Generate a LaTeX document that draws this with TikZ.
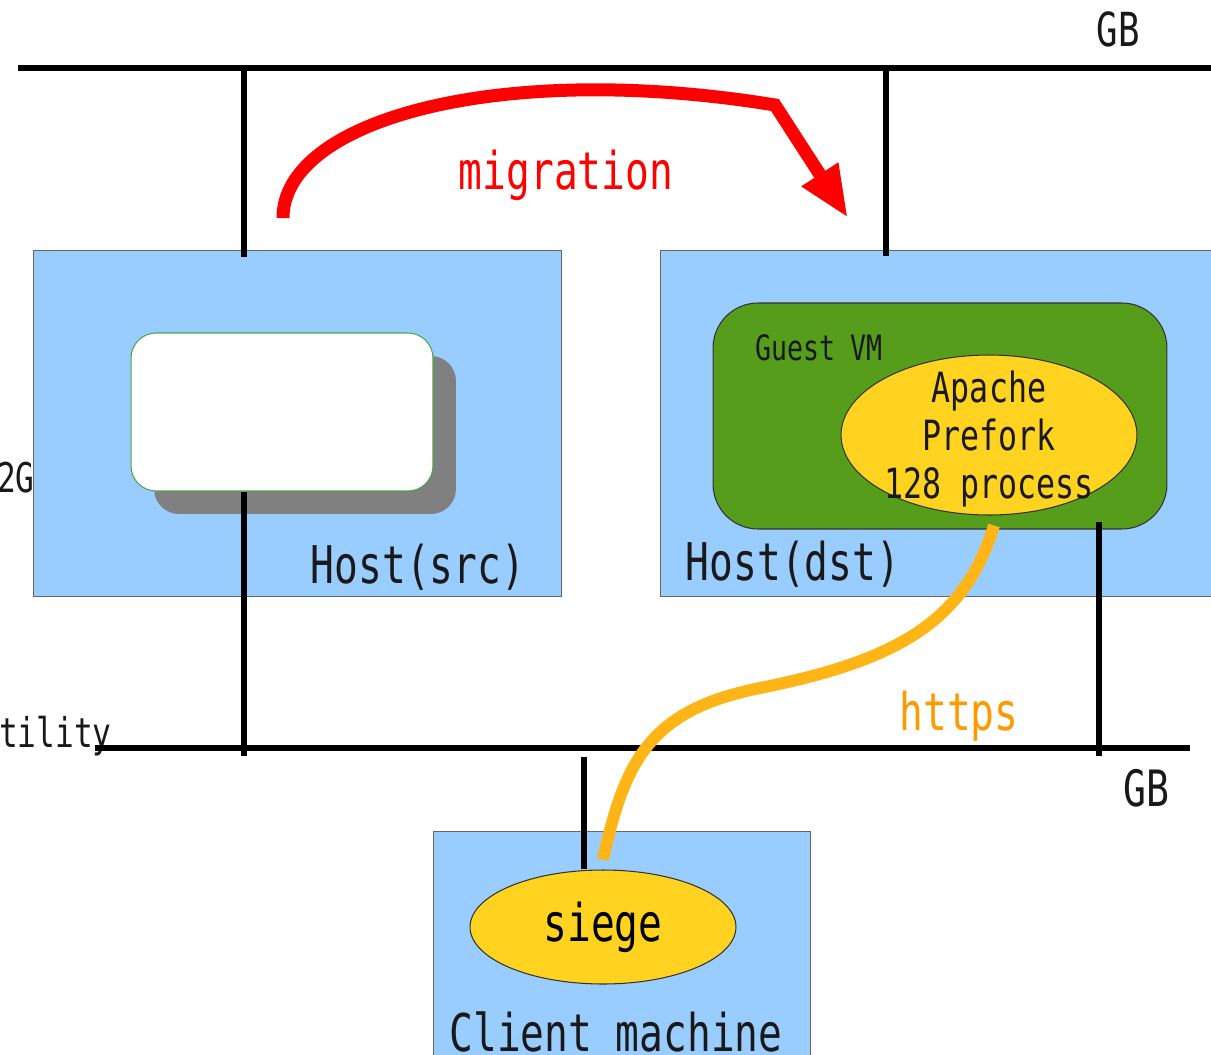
\documentclass[tikz,border=0pt]{standalone}
\usepackage{fontspec}
\newfontfamily\diagfont[FakeStretch=0.76]{DejaVu Sans Mono}
\usepackage{tikz}
\usetikzlibrary{
    positioning, % relative placement
    arrows.meta, % arrow tips
    shapes.geometric, % ellipses
    shadows % drop shadow of the VM box
}
\definecolor{hostblue}{HTML}{99CCFF}
\definecolor{vmgreen}{HTML}{579D1C}
\definecolor{procyellow}{HTML}{FFD320}
\definecolor{linkorange}{HTML}{FFB515}
\definecolor{httpsorange}{HTML}{FF9900}

\begin{document}
\begin{tikzpicture}[
    x=0.02cm, y=-0.02cm,
    host/.style={
        draw=black!60,
        fill=hostblue,
        line width=0.6pt,
        inner sep=0pt
    },
    oldvm/.style={
        draw=green!50!black!70,
        fill=white,
        rounded corners=0.5cm,
        line width=0.6pt,
        inner sep=0pt,
        drop shadow={shadow xshift=0.46cm, shadow yshift=-0.46cm,
            fill=black!50, opacity=1}
    },
    guestvm/.style={
        draw=black!80,
        fill=vmgreen,
        rounded corners=0.9cm,
        line width=0.6pt,
        inner sep=0pt
    },
    proc/.style={
        ellipse,
        draw=black!80,
        fill=procyellow,
        line width=0.6pt,
        inner sep=0pt,
        font=\diagfont\fontsize{29.6}{34}\selectfont
    },
    biglabel/.style={
        text=black!90,
        inner sep=0pt,
        font=\diagfont\fontsize{29.6}{34}\selectfont
    },
    sidelabel/.style={
        text=black!90,
        inner sep=0pt,
        font=\diagfont\fontsize{23.3}{28}\selectfont
    },
    bus/.style={
        line width=3.4pt,
        draw=black
    },
    migrate/.style={
        -{Triangle[length=1.04cm, width=0.8cm]},
        line width=7.4pt,
        draw=red
    },
    request/.style={
        line width=6.8pt,
        draw=linkorange
    }
]
\useasboundingbox (0,0) rectangle (1211,1055);

% Hosts
\node[host, minimum width=10.58cm, minimum height=6.94cm] (hostsrc) at (297.5,423.5) {};
\node[host, minimum width=11.6cm, minimum height=6.94cm] (hostdst) at (950,423.5) {};
\node[host, minimum width=7.56cm, minimum height=4.9cm] (client) at (622,954) {};

% VM before and after the move
\node[oldvm, minimum width=6.04cm, minimum height=3.16cm] (srcvm) at (282,412) {};
\node[guestvm, minimum width=9.08cm, minimum height=4.52cm] (dstvm) at (940,416) {};

% Processes
\node[proc, minimum width=5.92cm, minimum height=3.2cm] (apache) at (989,435) {};
\node[biglabel, align=center, font=\diagfont\fontsize{23.7}{27.3}\selectfont]
    (apachetxt) at ([yshift=-0.08cm]apache.center) {Apache\\Prefork\\128 process};
\node[proc, minimum width=5.32cm, minimum height=2.28cm] (siege) at (603,927) {siege};

% Labels
\node[biglabel, anchor=base] (srclabel) at (418,583) {Host(src)};
\node[biglabel, anchor=base] (dstlabel) at (793,580) {Host(dst)};
\node[biglabel, anchor=base] (clientlabel) at (616,1051) {Client machine};
\node[biglabel, anchor=base, font=\diagfont\fontsize{19.9}{24}\selectfont]
    (guestlabel) at (819,360) {Guest VM};
\node[biglabel, anchor=base, text=red] (miglabel) at (566,189) {migration};
\node[biglabel, anchor=base, text=httpsorange] (httpslabel) at (959,730) {https};
\node[biglabel, anchor=base, font=\diagfont\fontsize{26.7}{30}\selectfont]
    (topgb) at (1118,46) {GB};
\node[biglabel, anchor=base, font=\diagfont\fontsize{28.5}{32}\selectfont]
    (botgb) at (1146,806) {GB};
\node[sidelabel, anchor=base east] (sidea) at (35,492) {2G};
\node[sidelabel, anchor=base east] (sideb) at (112,747) {tility};

% Network
\coordinate (topbusL) at (18,68);
\coordinate (topbusR) at (1240,68);
\coordinate (botbusL) at (95,748);
\coordinate (botbusR) at (1190,748);
\coordinate (srctap) at (244,68);
\coordinate (dsttap) at (886,68);
\coordinate (dstdown) at (1099,522);
\coordinate (clienttap) at (584,757);

\draw[bus] (topbusL) -- (topbusR);
\draw[bus] (botbusL) -- (botbusR);
\draw[bus] (srctap) -- ([yshift=-0.14cm]srctap |- hostsrc.north);
\draw[bus] (dsttap) -- ([yshift=-0.12cm]dsttap |- hostdst.north);
\draw[bus] (srctap |- srcvm.south) -- ([yshift=-0.16cm]srctap |- botbusL);
\draw[bus] (dstdown) -- ([yshift=-0.16cm]dstdown |- botbusL);
\draw[bus] (clienttap) -- (clienttap |- siege.north);

% Migration
\coordinate (migstart) at (283,218);
\coordinate (migbend) at (775,105);
\coordinate (migend) at (848,218);
\draw[migrate, line join=miter]
(migstart) .. controls (283,120) and (500,60) .. (migbend) -- (migend);

% Requests
\draw[request]
([yshift=0.2cm]siege.north) .. controls (625,760) and (650,710) .. (760,688)
.. controls (900,660) and (965,620) .. ([xshift=0.1cm, yshift=-0.2cm]apache.south);

\end{tikzpicture}
\end{document}
